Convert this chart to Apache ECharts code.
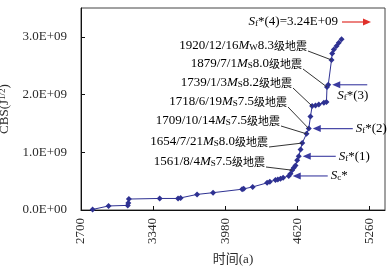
<!DOCTYPE html>
<html>
<head>
<meta charset="utf-8">
<script src="https://cdn.jsdelivr.net/npm/echarts@6/dist/echarts.min.js"></script>
<style>
html,body{margin:0;padding:0;background:#fff;}
#main{width:392px;height:273px;}
</style>
</head>
<body>
<div id="main"></div>
<script>
// 时间(a) 与 CBS 值（单位 1E+09）
var years = [2803, 2945, 3115, 3120, 3125, 3399, 3562, 3585, 3731, 3873, 4131, 4145, 4225,
    4353, 4377, 4427, 4448, 4472, 4495, 4545, 4560, 4575, 4590, 4605, 4620, 4634, 4650, 4665,
    4703, 4723, 4738, 4753, 4783, 4812, 4857, 4880, 4885, 4896, 4925, 4931, 4946, 4970, 4990, 5014];
var cbs = [0.01, 0.07, 0.08, 0.12, 0.19, 0.20, 0.20, 0.21, 0.27, 0.30, 0.36, 0.37, 0.40,
    0.47, 0.49, 0.52, 0.53, 0.54, 0.56, 0.59, 0.63, 0.69, 0.73, 0.77, 0.86, 0.93, 1.05, 1.16,
    1.32, 1.41, 1.62, 1.80, 1.81, 1.83, 1.86, 1.87, 2.13, 2.17, 2.60, 2.71, 2.78, 2.84, 2.90, 2.96];

// 地震标注
var eqDate = ['1920/12/16', '1879/7/1', '1739/1/3', '1718/6/19', '1709/10/14', '1654/7/21', '1561/8/4'];
var eqMagType = ['W', 'S', 'S', 'S', 'S', 'S', 'S'];
var eqMag = ['8.3', '8.0', '8.2', '7.5', '7.5', '8.0', '7.5'];
var eqIndex = [38, 36, 31, 29, 28, 27, 21];   // 对应曲线上的点

// 临界值箭头
var sSub = ['c', 'f', 'f', 'f'];
var sTail = ['', '(1)', '(2)', '(3)'];
var sIndex = [19, 25, 29, 37];
var sf4Value = '3.24E+09';

var serif = 'Liberation Serif, Times New Roman, serif';
var cjk = 'Noto Sans CJK SC';
var textColor = '#2b2b2b';
var blue = '#2e3192';

function sci(v) {
    if (v === 0) return '0.0E+00';
    var e = Math.floor(Math.log10(v));
    var m = v / Math.pow(10, e);
    return m.toFixed(1) + 'E+' + (e < 10 ? '0' + e : e);
}

var myChart = echarts.init(document.getElementById('main'));
var option = {
    animation: false,
    backgroundColor: '#fff',
    grid: {
        left: 81, right: 7, top: 8, bottom: 63,
        show: true, borderColor: '#444', borderWidth: 1,
        outerBoundsMode: 'none'
    },
    xAxis: {
        type: 'value', min: 2700, max: 5400, interval: 640,
        name: '时间(a)', nameLocation: 'middle', nameGap: 43,
        nameTextStyle: {fontFamily: serif + ', ' + cjk, fontSize: 13, color: textColor},
        axisLine: {lineStyle: {color: '#111', width: 1}},
        axisTick: {inside: true, length: 4, lineStyle: {color: '#111'}},
        axisLabel: {rotate: 90, margin: 8, fontFamily: serif, fontSize: 13, color: textColor, showMaxLabel: false,
            formatter: function (v) { return String(v); }},
        splitLine: {show: false}
    },
    yAxis: {
        type: 'value', min: 0, max: 3.5e9, interval: 1e9,
        name: '{a|CBS(J}{sup|1/2}{a|)}', nameLocation: 'middle', nameRotate: 90, nameGap: 60,
        nameTextStyle: {
            rich: {
                a: {fontFamily: serif, fontSize: 13, color: textColor},
                sup: {fontFamily: serif, fontSize: 9, color: textColor, verticalAlign: 'top'}
            }
        },
        axisLine: {show: true, lineStyle: {color: '#111', width: 1}},
        axisTick: {show: true, inside: true, length: 4, lineStyle: {color: '#111'}},
        axisLabel: {margin: 14, fontFamily: serif, fontSize: 13, color: textColor, showMaxLabel: false, formatter: sci},
        splitLine: {show: false}
    },
    series: [{
        type: 'line',
        data: years.map(function (y, i) { return [y, cbs[i] * 1e9]; }),
        symbol: 'diamond', symbolSize: 6, showAllSymbol: true,
        itemStyle: {color: blue},
        lineStyle: {color: blue, width: 1}
    }]
};
myChart.setOption(option);

// 标注
var richText = {
    n: {fontFamily: serif, fontSize: 13, color: textColor},
    i: {fontFamily: serif, fontStyle: 'italic', fontSize: 13, color: textColor},
    s: {fontFamily: serif, fontSize: 9, color: textColor, verticalAlign: 'bottom'},
    c: {fontFamily: cjk, fontSize: 11, color: textColor}
};
var labelEnd = [307, 302, 292, 287, 280, 268, 265];
var labelY = [46, 64, 83, 102, 121, 142, 162];
var arrowLen = [35, 33, 40, 35];
var graphics = [];

function px(i) { return myChart.convertToPixel({gridIndex: 0}, [years[i], cbs[i] * 1e9]); }

eqDate.forEach(function (d, k) {
    graphics.push({
        type: 'text', x: labelEnd[k], y: labelY[k], z: 100,
        style: {
            text: '{n|' + d + '}{i|M}{s|' + eqMagType[k] + '}{n|' + eqMag[k] + '}{c|级地震}',
            rich: richText, align: 'right', verticalAlign: 'middle'
        }
    });
    var p = px(eqIndex[k]);
    graphics.push({
        type: 'line', z: 90,
        shape: {x1: labelEnd[k] + 1, y1: labelY[k] + 5, x2: p[0], y2: p[1]},
        style: {stroke: '#333', lineWidth: 1}
    });
});

sIndex.forEach(function (idx, k) {
    var p = px(idx);
    var tipX = p[0] + 4, y = p[1];
    var tailX = tipX + arrowLen[k];
    graphics.push({
        type: 'line', z: 90,
        shape: {x1: tipX + 6, y1: y, x2: tailX, y2: y},
        style: {stroke: '#4b4ba8', lineWidth: 1.2}
    });
    graphics.push({
        type: 'polygon', z: 90,
        shape: {points: [[tipX, y], [tipX + 8, y - 3.5], [tipX + 8, y + 3.5]]},
        style: {fill: '#3b3ba0'}
    });
    var lx = tailX + 3, ly = y;
    if (k === 3) { lx = tipX + 5; ly = y + 11; }
    graphics.push({
        type: 'text', x: lx, y: ly, z: 100,
        style: {
            text: '{i|S}{s|' + sSub[k] + '}{n|*' + sTail[k] + '}',
            rich: richText, align: 'left', verticalAlign: 'middle'
        }
    });
});

graphics.push({
    type: 'text', x: 338, y: 22, z: 100,
    style: {
        text: '{i|S}{s|f}{n|*(4)=' + sf4Value + '}',
        rich: richText, align: 'right', verticalAlign: 'middle'
    }
});
graphics.push({
    type: 'line', z: 90,
    shape: {x1: 342, y1: 22, x2: 364, y2: 22},
    style: {stroke: '#e0302a', lineWidth: 1.2}
});
graphics.push({
    type: 'polygon', z: 90,
    shape: {points: [[371, 22], [363, 18.5], [363, 25.5]]},
    style: {fill: '#e0302a'}
});

myChart.setOption({graphic: graphics});
window.addEventListener('resize', function () { myChart.resize(); });
</script>
</body>
</html>
